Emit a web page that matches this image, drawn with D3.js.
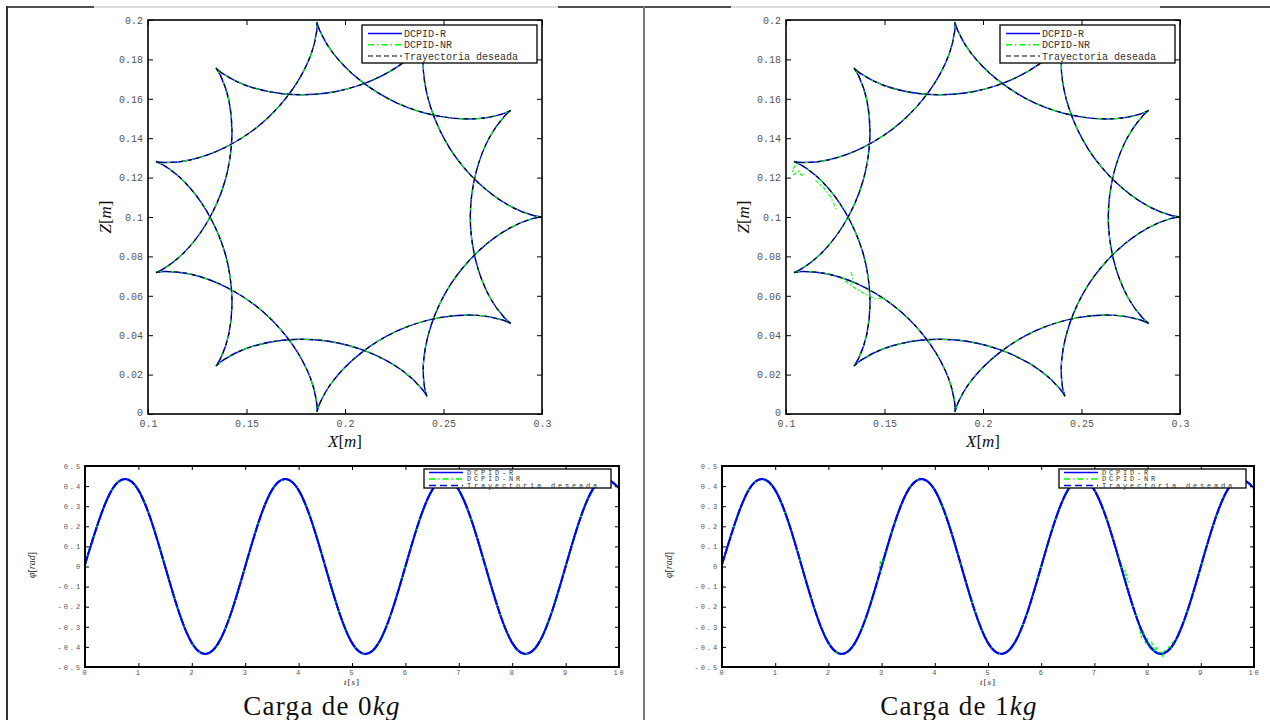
<!DOCTYPE html>
<html><head><meta charset="utf-8">
<script src="https://cdn.jsdelivr.net/npm/d3@7"></script>
<style>body{margin:0;background:#fff;} svg{display:block}</style>
</head><body><svg id="c" width="1270" height="720"></svg>
<script>
// ---------------- DATA ----------------
// XZ trajectory, polar readings around centre (0.2, 0.1): each arc (cusp to cusp) as angles in degrees
const xzCentre = [0.2, 0.1];
const trajAngles = [
  [0, 0.45, 3.84, 13.99, 32.73, 51.47, 61.62, 65.01, 65.45],
  [65.45, 65.9, 69.29, 79.44, 98.18, 116.92, 127.07, 130.46, 130.91],
  [130.91, 131.36, 134.75, 144.9, 163.64, 182.38, 192.53, 195.92, 196.36],
  [196.36, 196.81, 200.2, 210.35, 229.09, 247.83, 257.98, 261.37, 261.82],
  [261.82, 262.27, 265.66, 275.81, 294.55, 313.29, 323.44, 326.83, 327.27],
  [327.27, 327.72, 331.11, 341.26, 360.0, 378.74, 388.89, 392.28, 392.73],
  [32.73, 33.18, 36.57, 46.72, 65.46, 84.2, 94.35, 97.74, 98.18],
  [98.18, 98.63, 102.02, 112.17, 130.91, 149.65, 159.8, 163.19, 163.64],
  [163.64, 164.09, 167.48, 177.63, 196.37, 215.11, 225.26, 228.65, 229.09],
  [229.09, 229.54, 232.93, 243.08, 261.82, 280.56, 290.71, 294.1, 294.55],
  [294.55, 295.0, 298.39, 308.54, 327.28, 346.02, 356.17, 359.56, 360.0]
];
// radius (m) of the points along each arc
const arcRadii = [0.1, 0.0956, 0.0838, 0.0702, 0.0636, 0.0702, 0.0838, 0.0956, 0.1];

// DCPID-NR deviations with 1 kg load (X, Z in m)
const nrDevXZ1 = [
  [[0.1048,0.1262],[0.1032,0.1238],[0.1040,0.1215],[0.1062,0.1232],[0.1080,0.1212],[0.1100,0.1220]],
  [[0.1150,0.1185],[0.1190,0.1150],[0.1225,0.1105],[0.1255,0.1040]],
  [[0.1300,0.0675],[0.1350,0.0640],[0.1400,0.0610],[0.1450,0.0585],[0.1500,0.0590]],
  [[0.1330,0.0720],[0.1340,0.0690],[0.1335,0.0660]]
];

const xTicksXZ = [0.1, 0.15, 0.2, 0.25, 0.3];
const xTickLabelsXZ = ['0.1', '0.15', '0.2', '0.25', '0.3'];
const zTicksXZ = [0, 0.02, 0.04, 0.06, 0.08, 0.1, 0.12, 0.14, 0.16, 0.18, 0.2];
const zTickLabelsXZ = ['0', '0.02', '0.04', '0.06', '0.08', '0.1', '0.12', '0.14', '0.16', '0.18', '0.2'];

// phi-dot vs time
const phiTime = [0,0.25,0.5,0.75,1,1.25,1.5,1.75,2,2.25,2.5,2.75,3,3.25,3.5,3.75,4,4.25,4.5,4.75,5,5.25,5.5,5.75,6,6.25,6.5,6.75,7,7.25,7.5,7.75,8,8.25,8.5,8.75,9,9.25,9.5,9.75,10];
const phiValues = [0.01,0.22,0.38,0.435,0.38,0.22,0,-0.22,-0.38,-0.435,-0.38,-0.22,0,0.22,0.38,0.435,0.38,0.22,0,-0.22,-0.38,-0.435,-0.38,-0.22,0,0.22,0.38,0.435,0.38,0.22,0,-0.22,-0.38,-0.435,-0.38,-0.22,0,0.22,0.38,0.435,0.39];
// DCPID-NR noise with 1 kg load
const nrNoiseT1 = [
  [2.96,2.98,3.0,3.02,3.04,3.06],
  [7.42,7.46,7.5,7.54,7.58,7.62,7.66],
  [7.84,7.88,7.92,7.96,8.0,8.04,8.08,8.12,8.16,8.2,8.24,8.28,8.32,8.36,8.4,8.44,8.48]
];
const nrNoiseV1 = [
  [-0.01,0.03,-0.005,0.04,0.02,0.06],
  [0.07,0.03,0.02,-0.03,-0.02,-0.07,-0.08],
  [-0.30,-0.35,-0.32,-0.38,-0.36,-0.41,-0.38,-0.42,-0.40,-0.44,-0.42,-0.445,-0.42,-0.43,-0.40,-0.41,-0.37]
];

const tTicks = [0,1,2,3,4,5,6,7,8,9,10];
const tTickLabels = ['0','1','2','3','4','5','6','7','8','9','10'];
const phiTicks = [-0.5,-0.4,-0.3,-0.2,-0.1,0,0.1,0.2,0.3,0.4,0.5];
const phiTickLabels = ['-0.5','-0.4','-0.3','-0.2','-0.1','0','0.1','0.2','0.3','0.4','0.5'];

const legendNames = ['DCPID-R', 'DCPID-NR', 'Trayectoria deseada'];
const panelTitles = ['0', '1'];

// ---------------- DRAW ----------------
const svg = d3.select('#c');
const BLUE = '#0000ff', GREEN = '#00ff00', BLACK = '#000';
const MONO = "'Liberation Mono', 'DejaVu Sans Mono', monospace";
const SERIF = "'Liberation Serif', 'DejaVu Serif', serif";

// table frame
const frame = svg.append('g');
frame.append('line').attr('x1',7).attr('x2',1270).attr('y1',7).attr('y2',7).attr('stroke','#d0d0d0').attr('stroke-width',1.5);
[[7,94],[558,731],[1160,1270]].forEach(s=>{
  frame.append('line').attr('x1',s[0]).attr('x2',s[1]).attr('y1',7).attr('y2',7).attr('stroke','#222').attr('stroke-width',1.5);
});
frame.append('line').attr('x1',7).attr('x2',7).attr('y1',6).attr('y2',720).attr('stroke','#333').attr('stroke-width',2);
frame.append('line').attr('x1',644).attr('x2',644).attr('y1',6).attr('y2',720).attr('stroke','#777').attr('stroke-width',2);

function axes(g, x, y, xt, xl, yt, yl, o) {
  const L = x.range()[0], R = x.range()[1], B = y.range()[0], T = y.range()[1];
  const bx = g.append('g').attr('transform',`translate(0,${B})`)
    .call(d3.axisBottom(x).tickValues(xt).tickFormat((d,i)=>xl[i]).tickSize(-o.tick).tickPadding(o.xpad));
  const tx = g.append('g').attr('transform',`translate(0,${T})`)
    .call(d3.axisTop(x).tickValues(xt).tickFormat('').tickSize(-o.tick));
  const ly = g.append('g').attr('transform',`translate(${L},0)`)
    .call(d3.axisLeft(y).tickValues(yt).tickFormat((d,i)=>yl[i]).tickSize(-o.tick).tickPadding(o.ypad));
  const ry = g.append('g').attr('transform',`translate(${R},0)`)
    .call(d3.axisRight(y).tickValues(yt).tickFormat('').tickSize(-o.tick));
  [bx,tx,ly,ry].forEach(a=>{
    a.select('.domain').remove();
    a.selectAll('.tick line').attr('stroke','#000').attr('stroke-width',1);
    a.selectAll('text').attr('fill','#555').style('font-family',MONO).style('font-size',o.fs+'px')
      .style('letter-spacing', (o.ls||0)+'px');
  });
  if (o.y0shift) ly.selectAll('.tick').filter(d=>d===yt[0]).select('text').attr('dy', o.y0shift);
  g.append('rect').attr('x',L).attr('y',T).attr('width',R-L).attr('height',B-T)
    .attr('fill','none').attr('stroke','#000').attr('stroke-width',o.sw);
}

function legend(g, lx, ly, w, h, rows, o) {
  const lg = g.append('g');
  lg.append('rect').attr('x',lx).attr('y',ly).attr('width',w).attr('height',h)
    .attr('fill','#fff').attr('stroke','#000').attr('stroke-width',1.3);
  legendNames.forEach((n,i)=>{
    const yy = ly + rows[i];
    lg.append('line').attr('x1',lx+o.s0).attr('x2',lx+o.s1).attr('y1',yy).attr('y2',yy)
      .attr('stroke',o.colors[i]).attr('stroke-width',o.lw).attr('stroke-dasharray',o.dash[i]);
    lg.append('text').attr('x',lx+o.tx).attr('y',yy).attr('dy','0.35em').text(n)
      .attr('fill','#333').style('font-family',MONO).style('font-size',o.fs+'px')
      .style('letter-spacing',(o.ls||0)+'px');
  });
}

function xzPanel(L, T, W, H, devs) {
  const g = svg.append('g');
  const x = d3.scaleLinear().domain([0.1,0.3]).range([L, L+W]);
  const y = d3.scaleLinear().domain([0,0.2]).range([T+H, T]);
  const rScale = d3.scaleLinear().domain([0,0.1]).range([0, (W+H)/4]);
  const radial = d3.lineRadial()
    .angle(d => (90 - d[0]) * Math.PI / 180)
    .radius(d => rScale(d[1]))
    .curve(d3.curveCatmullRom.alpha(0.5));
  const arcs = trajAngles.map(a => a.map((v,j)=>[v, arcRadii[j]]));
  const cg = g.append('g').attr('transform',`translate(${x(xzCentre[0])},${y(xzCentre[1])})`);
  const styles = [
    {c:BLUE, d:null, w:1.4},
    {c:GREEN, d:'6,4,1.5,4', w:1.1},
    {c:BLACK, d:'4,5', w:1.1}
  ];
  styles.forEach((s,si)=>{
    arcs.forEach(a=>{
      cg.append('path').attr('d', radial(a)).attr('fill','none')
        .attr('stroke',s.c).attr('stroke-width',s.w).attr('stroke-dasharray',s.d);
    });
    if (si===1 && devs) {
      const ln = d3.line().x(d=>x(d[0])).y(d=>y(d[1])).curve(d3.curveLinear);
      devs.forEach(dv=>{
        g.append('path').attr('d', ln(dv)).attr('fill','none').attr('stroke',GREEN)
          .attr('stroke-width',1.1).attr('stroke-dasharray','4,2,1.5,2');
      });
    }
  });
  axes(g, x, y, xTicksXZ, xTickLabelsXZ, zTicksXZ, zTickLabelsXZ,
    {tick:5, xpad:6, ypad:5, fs:10, sw:1.6, y0shift:'0.1em'});
  legend(g, L+214, T+5, 175, 38, [8.5, 19.7, 31], {
    s0:6, s1:40, tx:42, fs:10, lw:1.4,
    colors:[BLUE, GREEN, '#555'], dash:[null,'6,3,1.5,3','5,3']
  });
  // labels
  const xl = g.append('text').attr('x', L + W/2).attr('y', T+H+33).attr('text-anchor','middle')
    .style('font-family',SERIF).style('font-size','17px').attr('fill','#111');
  xl.append('tspan').text('X').style('font-style','italic');
  xl.append('tspan').text('[');
  xl.append('tspan').text('m').style('font-style','italic');
  xl.append('tspan').text(']');
  const zl = g.append('text').attr('transform',`translate(${L-37},${T+H/2}) rotate(-90)`).attr('text-anchor','middle')
    .style('font-family',SERIF).style('font-size','17px').attr('fill','#111');
  zl.append('tspan').text('Z').style('font-style','italic');
  zl.append('tspan').text('[');
  zl.append('tspan').text('m').style('font-style','italic');
  zl.append('tspan').text(']');
}

function phiPanel(L, T, W, H, noise, titleKg, titleX) {
  const g = svg.append('g');
  const x = d3.scaleLinear().domain([0,10]).range([L, L+W]);
  const y = d3.scaleLinear().domain([-0.5,0.5]).range([T+H, T]);
  const pts = phiTime.map((t,i)=>[t, phiValues[i]]);
  const ln = d3.line().x(d=>x(d[0])).y(d=>y(d[1])).curve(d3.curveNatural);
  g.append('path').attr('d', ln(pts)).attr('fill','none').attr('stroke',BLUE).attr('stroke-width',2);
  g.append('path').attr('d', ln(pts)).attr('fill','none').attr('stroke',GREEN).attr('stroke-width',2)
    .attr('stroke-dasharray','5,3,1.5,3');
  if (noise) {
    const ll = d3.line().x(d=>x(d[0])).y(d=>y(d[1]));
    noise.t.forEach((tt,k)=>{
      g.append('path').attr('d', ll(tt.map((t,i)=>[t, noise.v[k][i]]))).attr('fill','none')
        .attr('stroke',GREEN).attr('stroke-width',1.3).attr('stroke-dasharray','3,1.5');
    });
  }
  g.append('path').attr('d', ln(pts)).attr('fill','none').attr('stroke',BLUE).attr('stroke-width',2)
    .attr('stroke-dasharray','9,1');
  axes(g, x, y, tTicks, tTickLabels, phiTicks, phiTickLabels,
    {tick:4, xpad:3, ypad:3, fs:7, ls:1.9, sw:2});
  legend(g, W - 195 + L, T+3, 187, 19, [3.5, 10, 16.5], {
    s0:5, s1:39, tx:43, fs:7, ls:2.8, lw:1.6,
    colors:[BLUE, GREEN, BLUE], dash:[null,'6,3,1.5,3','7,4']
  });
  const tl = g.append('text').attr('x', L + W/2).attr('y', T+H+18).attr('text-anchor','middle')
    .style('font-family',SERIF).style('font-size','9px').style('letter-spacing','1px').attr('fill','#222');
  tl.append('tspan').text('t').style('font-style','italic');
  tl.append('tspan').text('[');
  tl.append('tspan').text('s').style('font-style','italic');
  tl.append('tspan').text(']');
  const yl = g.append('text').attr('transform',`translate(${L-50},${T+99}) rotate(-90)`).attr('text-anchor','middle')
    .style('font-family',SERIF).style('font-size','10px').attr('fill','#222');
  yl.append('tspan').text('\u03c6\u0307').style('font-style','italic');
  yl.append('tspan').text('[');
  yl.append('tspan').text('rad').style('font-style','italic');
  yl.append('tspan').text(']');
  const ct = svg.append('text').attr('x', titleX).attr('y', 715).attr('text-anchor','middle')
    .style('font-family',SERIF).style('font-size','27px').style('letter-spacing','1.3px').attr('fill','#111');
  ct.append('tspan').text('Carga de ' + titleKg);
  ct.append('tspan').text('kg').style('font-style','italic');
}

xzPanel(148, 20, 394, 394, null);
xzPanel(786, 20, 394, 394, nrDevXZ1);
phiPanel(85, 466, 534, 201, null, panelTitles[0], 322);
phiPanel(722, 466, 532, 201, {t:nrNoiseT1, v:nrNoiseV1}, panelTitles[1], 959);
</script></body></html>
